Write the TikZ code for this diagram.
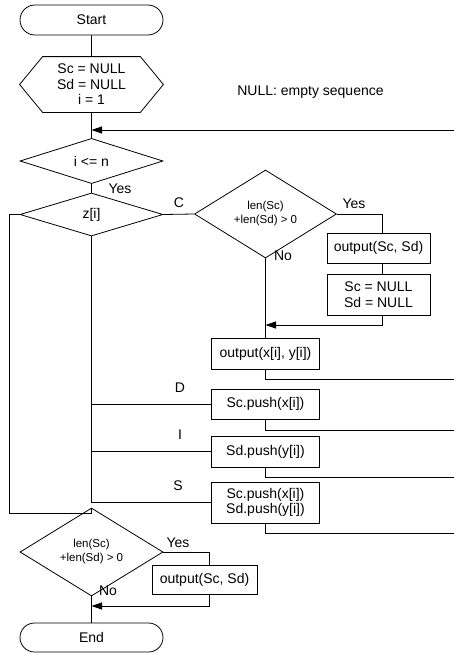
\documentclass[tikz,border=0pt]{standalone}
\usepackage{fontspec}
\setmainfont{Liberation Sans}
\usetikzlibrary{shapes.geometric,shapes.misc,arrows.meta}
\begin{document}
\begin{tikzpicture}[x=1pt,y=-1pt, line width=0.8pt,
  font=\fontsize{14}{15.5}\selectfont,
  term/.style={draw, rounded rectangle, minimum width=143pt, minimum height=30pt, inner sep=0pt},
  proc/.style={draw, rectangle, minimum width=108pt, minimum height=30pt, inner sep=0pt, align=center},
  dec/.style={draw, diamond, minimum width=143pt, minimum height=43pt, inner sep=0pt, align=center},
  small/.style={font=\fontsize{11.5}{14}\selectfont},
  arr/.style={-{Triangle[length=10.5pt,width=7pt]}},
  lbl/.style={inner sep=0pt}]
\useasboundingbox (0,0) rectangle (454,653);

% nodes
\node[term] (start) at (91.5,20) {Start};
\node[minimum width=143pt, minimum height=55pt, inner sep=0pt, align=center] (init) at (91.5,84.5) {Sc = NULL\\Sd = NULL\\i = 1};
\draw ([xshift=23pt]init.north west) -- ([xshift=-23pt]init.north east) -- (init.east)
  -- ([xshift=-23pt]init.south east) -- ([xshift=23pt]init.south west) -- (init.west) -- cycle;
\node[lbl] (note) at (310.5,92) {NULL: empty sequence};

\node[dec, minimum height=42pt] (c1) at (91.5,161) {i <= n};
\node[dec] (z) at (91.5,214.5) {z[i]};
\node[dec, small, minimum width=142pt, minimum height=44pt] (lc) at (265.5,214) {len(Sc)\\+len(Sd) > 0};
\node[proc, minimum width=103pt] (osd) at (378.5,248) {output(Sc, Sd)};
\node[proc, minimum width=103pt, minimum height=41pt] (nul) at (378.5,294.5) {Sc = NULL\\Sd = NULL};
\node[proc, minimum height=31pt] (oxy) at (265.5,353.5) {output(x[i], y[i])};
\node[proc] (sp1) at (265.5,404) {Sc.push(x[i])};
\node[proc, minimum height=31pt] (sp2) at (265.5,451.5) {Sd.push(y[i])};
\node[proc, minimum height=41pt] (sp3) at (265.5,502.5) {Sc.push(x[i])\\Sd.push(y[i])};

\node[dec, small, minimum height=42pt] (lc2) at (91.5,552) {len(Sc)\\+len(Sd) > 0};
\node[proc, minimum width=105pt, minimum height=29pt] (osd2) at (204.5,579.5) {output(Sc, Sd)};
\node[term, minimum height=29pt] (end) at (91.5,637.5) {End};

% labels
\node[lbl] (yes1) at (120,189) {Yes};
\node[lbl] (lC) at (179,203) {C};
\node[lbl] (yes2) at (354,204) {Yes};
\node[lbl] (no1) at (283,256) {No};
\node[lbl] (lD) at (180,388) {D};
\node[lbl] (lI) at (180,435) {I};
\node[lbl] (lS) at (178,486) {S};
\node[lbl] (yes3) at (178,543) {Yes};
\node[lbl] (no2) at (108,591) {No};

% coordinates
\coordinate (r0) at (454,130);
\coordinate (m0) at (91.5,130);
\coordinate (m1) at (265.5,325);
\coordinate (r1) at (454,379);
\coordinate (r2) at (454,430);
\coordinate (r3) at (454,477);
\coordinate (r4) at (454,533);
\coordinate (lp1) at (9,214.5);
\coordinate (lp2) at (9,513);
\coordinate (m2) at (91.5,606);

% connectors
\draw (start) -- (init);
\draw (init.south) -- (c1.north);
\draw[arr] (r0) -- (m0);
\draw (c1.south) -- (z.north);
\draw (z.east) -- (lc.west);
\draw (lc.east) -| ([xshift=3.5pt]osd.north);
\draw ([xshift=3.5pt]osd.south) -- ([xshift=3.5pt]nul.north);
\draw[arr] ([xshift=3.5pt]nul.south) |- (m1);
\draw (lc.south) -- (oxy.north);
\draw (oxy.south) |- (r1);
\draw (z.south) -- (z.south |- sp3.west);
\draw (z.south |- sp1.west) -- (sp1.west);
\draw (z.south |- sp2.west) -- (sp2.west);
\draw (z.south |- sp3.west) -- (sp3.west);
\draw (sp1.south) |- (r2);
\draw (sp2.south) |- (r3);
\draw (sp3.south) |- (r4);
\draw (z.west) -- (lp1) -- (lp2) -| (lc2.north);
\draw (lc2.east) -| ([xshift=4.5pt]osd2.north);
\draw[arr] ([xshift=4.5pt]osd2.south) |- (m2);
\draw (lc2.south) -- (end.north);
\end{tikzpicture}
\end{document}
